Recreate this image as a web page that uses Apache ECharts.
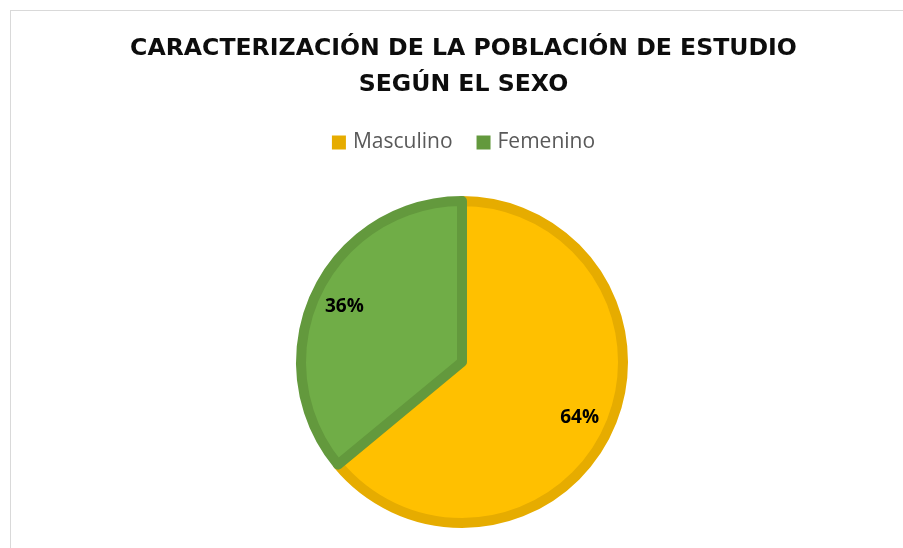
<!DOCTYPE html>
<html>
<head>
<meta charset="utf-8">
<script src="https://cdn.jsdelivr.net/npm/echarts@6/dist/echarts.min.js"></script>
<style>
  html, body { margin: 0; padding: 0; background: #fff; overflow: hidden; }
  #frame { position: absolute; left: 10px; top: 10px; width: 920px; height: 560px; border: 1px solid #d9d9d9; box-sizing: border-box; }
  #chart { position: absolute; left: 12px; top: 0; width: 903px; height: 548px; }
</style>
</head>
<body>
<div id="frame"></div>
<div id="chart"></div>
<script>
const categories = ['Masculino', 'Femenino']
const values = [64, 36]
const fillColors = ['#FFC000', '#70AD47']
const borderColors = ['#E6AC00', '#63993D']

const chart = echarts.init(document.getElementById('chart'))

const pieCenter = [450, 362]

const pieData = categories.map((name, i) => ({
  name,
  value: values[i],
  itemStyle: { color: fillColors[i], borderColor: borderColors[i], borderWidth: 10 }
}))

const option = {
  title: {
    text: 'CARACTERIZACIÓN DE LA POBLACIÓN DE ESTUDIO\nSEGÚN EL SEXO',
    left: 'center',
    top: 26,
    textStyle: {
      fontFamily: 'DejaVu Sans',
      fontSize: 23.6,
      fontWeight: 'bold',
      color: '#0d0d0d',
      lineHeight: 36
    }
  },
  legend: {
    top: 127,
    left: 'center',
    itemWidth: 14,
    itemHeight: 14,
    itemGap: 24,
    icon: 'rect',
    data: categories.map((name, i) => ({ name, itemStyle: { color: borderColors[i], borderWidth: 0 } })),
    textStyle: { fontFamily: 'Open Sans', fontSize: 21, color: '#595959', padding: [0, 0, 0, 2] }
  },
  series: [
    {
      type: 'pie',
      center: pieCenter,
      radius: [0, 161],
      startAngle: 90,
      clockwise: true,
      label: { show: false },
      labelLine: { show: false },
      emphasis: { disabled: true },
      data: pieData
    },
    {
      // transparent ring that only carries the percent labels
      type: 'pie',
      center: pieCenter,
      radius: [89, 165],
      startAngle: 90,
      clockwise: true,
      silent: true,
      itemStyle: { color: 'transparent', borderWidth: 0 },
      label: {
        show: true,
        position: 'inside',
        formatter: '{c}%',
        fontFamily: 'Open Sans',
        fontSize: 19,
        fontWeight: 'bold',
        color: '#000'
      },
      labelLine: { show: false },
      data: categories.map((name, i) => ({ name, value: values[i] }))
    }
  ]
}

chart.setOption(option)
</script>
</body>
</html>
